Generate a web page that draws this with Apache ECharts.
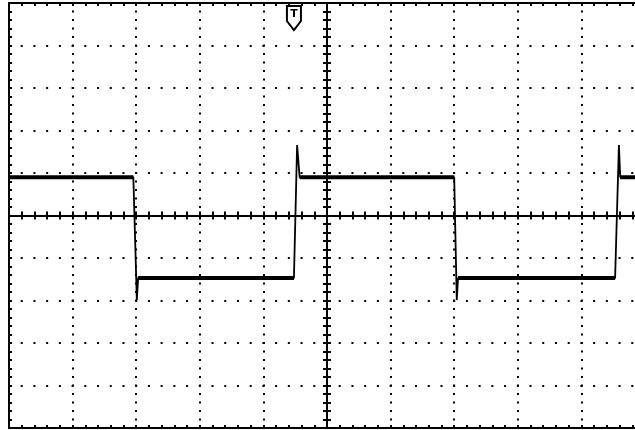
<!DOCTYPE html>
<html>
<head>
<meta charset="utf-8">
<script src="https://cdn.jsdelivr.net/npm/echarts@6/dist/echarts.min.js"></script>
<style>html,body{margin:0;padding:0;background:#fff;}#c{width:635px;height:430px;}</style>
</head>
<body>
<div id="c"></div>
<script>
// Time axis in divisions (10 divisions), voltage axis in divisions (10 divisions)
const timeRange = [-5, 5];
const voltRange = [-5, 5];
// Trace vertices (time in divisions, volts in divisions)
const traceTime = [-5, -3.045, -2.99, -2.97, -0.52, -0.47, -0.43, 2.0, 2.04, 2.06, 4.53, 4.59, 4.61, 5];
const traceVolt = [0.9, 0.9, -1.99, -1.47, -1.47, 1.66, 0.9, 0.9, -1.99, -1.47, -1.47, 1.66, 0.9, 0.9];
// Flat (noisy, thick) portions of the trace
const highLevel = 0.9;
const lowLevel = -1.47;
const highStart = [-5, -0.43, 4.61];
const highEnd = [-3.045, 2.0, 5];
const lowStart = [-2.97, 2.06];
const lowEnd = [-0.52, 4.53];
const triggerTime = -0.52;

const traceData = traceTime.map((t, i) => [t, traceVolt[i]]);
const levelData = [];
highStart.forEach((s, i) => { levelData.push([s, highLevel], [highEnd[i], highLevel], [s, '-']); });
lowStart.forEach((s, i) => { levelData.push([s, lowLevel], [lowEnd[i], lowLevel], [s, '-']); });

const chart = echarts.init(document.getElementById('c'), null, {renderer: 'canvas'});
const black = '#000';
function axisBase(extra) {
  return Object.assign({
    type: 'value', min: timeRange[0], max: timeRange[1], interval: 1,
    axisLabel: {show: false},
    axisLine: {show: true, onZero: false, lineStyle: {color: black, width: 2}},
    axisTick: {show: true, inside: true, length: 3, lineStyle: {color: black, width: 2}},
    minorTick: {show: true, splitNumber: 5, length: 3, lineStyle: {color: black, width: 2}},
    splitLine: {show: false}
  }, extra);
}
const option = {
  animation: false,
  backgroundColor: '#fff',
  grid: {left: 9, right: -10, top: 3, bottom: 2, outerBoundsMode: 'none', containLabel: false},
  xAxis: [
    axisBase({position: 'bottom', splitLine: {show: true, lineStyle: {color: black, width: 2, type: [2, 6.5], dashOffset: 1, cap: 'butt'}}}),
    axisBase({position: 'top'}),
    axisBase({position: 'bottom', offset: -212.5,
      axisTick: {show: true, inside: true, length: 4, lineStyle: {color: black, width: 2}},
      minorTick: {show: true, splitNumber: 5, length: 4, lineStyle: {color: black, width: 2}}}),
    axisBase({position: 'bottom', offset: -212.5,
      axisTick: {show: true, inside: false, length: 4, lineStyle: {color: black, width: 2}},
      minorTick: {show: true, splitNumber: 5, length: 4, lineStyle: {color: black, width: 2}}})
  ],
  yAxis: [
    axisBase({min: voltRange[0], max: voltRange[1], position: 'left', splitLine: {show: true, lineStyle: {color: black, width: 2, type: [2, 10.72], dashOffset: 1, cap: 'butt'}}}),
    axisBase({min: voltRange[0], max: voltRange[1], position: 'left', offset: -318,
      axisTick: {show: true, inside: true, length: 4, lineStyle: {color: black, width: 2}},
      minorTick: {show: true, splitNumber: 5, length: 4, lineStyle: {color: black, width: 2}}}),
    axisBase({min: voltRange[0], max: voltRange[1], position: 'left', offset: -318,
      axisTick: {show: true, inside: false, length: 4, lineStyle: {color: black, width: 2}},
      minorTick: {show: true, splitNumber: 5, length: 4, lineStyle: {color: black, width: 2}}})
  ],
  series: [
    {type: 'line', xAxisIndex: 0, yAxisIndex: 0, data: traceData, symbol: 'none', lineStyle: {color: black, width: 1.8}, z: 5},
    {type: 'line', xAxisIndex: 0, yAxisIndex: 0, data: levelData, symbol: 'none', connectNulls: false, lineStyle: {color: black, width: 3.8}, z: 5}
  ]
};
chart.setOption(option);
const px = chart.convertToPixel({xAxisIndex: 0}, triggerTime);
chart.setOption({
  graphic: [{
    type: 'group', x: px, y: 0, z: 100,
    children: [
      {type: 'polygon', shape: {points: [[-7, 6], [7, 6], [7, 21], [0, 30], [-7, 21]]}, style: {fill: '#fff', stroke: black, lineWidth: 2}},
      {type: 'text', x: 0, y: 14.5, style: {text: 'T', fill: black, font: 'bold 11px "DejaVu Sans", sans-serif', align: 'center', verticalAlign: 'middle'}}
    ]
  }]
});
</script>
</body>
</html>
